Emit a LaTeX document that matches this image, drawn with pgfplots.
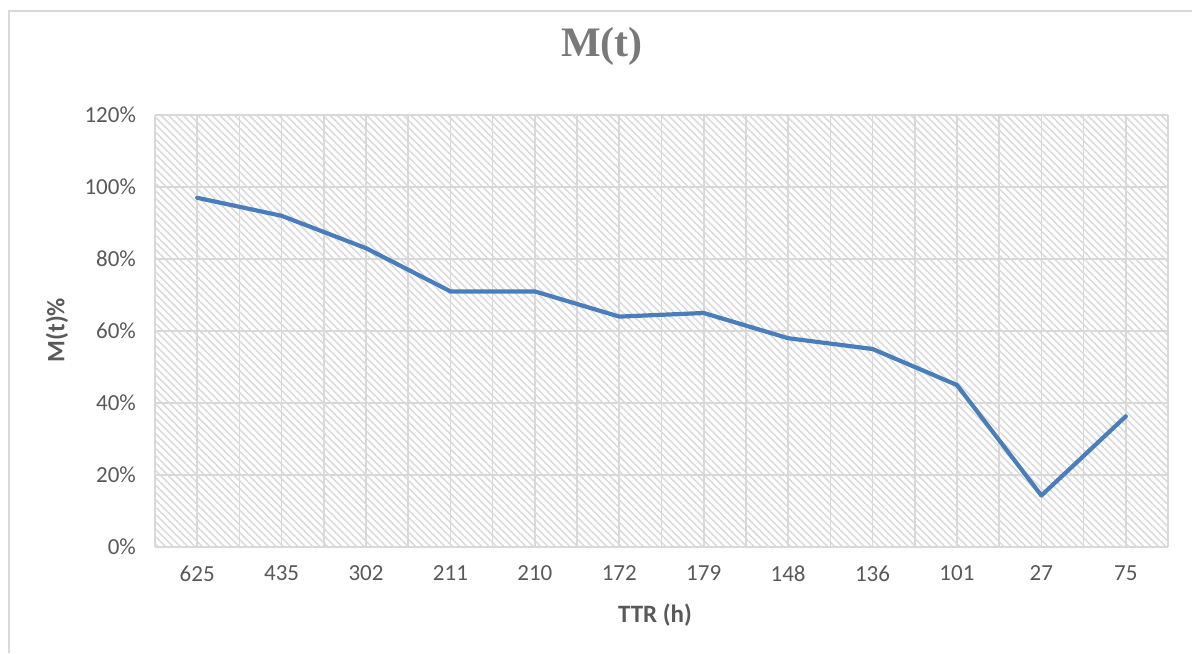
\documentclass[border=0pt]{standalone}
\usepackage{pgfplots}
\pgfplotsset{compat=1.18}
\usepackage{fontspec}
\setmainfont{Carlito}
\newfontfamily\titlefont{Liberation Serif}
\usetikzlibrary{patterns.meta}

\definecolor{txtgrey}{HTML}{595959}
\definecolor{gridgrey}{HTML}{D9D9D9}
\definecolor{linblue}{HTML}{4A7EBB}

\begin{document}
\begin{tikzpicture}
% picture bounds: 1 px = 0.5pt, axis lower left at px (155,547)
\useasboundingbox (-77.5pt,-53pt) rectangle (518.5pt,273.5pt);
\draw[gridgrey, line width=0.8pt] (-73pt,-53pt) -- (-73pt,268pt) -- (518.5pt,268pt);

\begin{axis}[
    at={(0,0)}, anchor=south west,
    scale only axis,
    width=506.5pt, height=216pt,
    xmin=-0.5, xmax=11.5,
    ymin=0, ymax=120,
    xtick={0,...,11},
    xticklabels={625,435,302,211,210,172,179,148,136,101,27,75},
    minor xtick={-0.5,0.5,...,11.5},
    ytick={0,20,...,120},
    yticklabels={0\%,20\%,40\%,60\%,80\%,100\%,120\%},
    xmajorgrids, xminorgrids, ymajorgrids,
    grid style={gridgrey, line width=0.8pt},
    minor grid style={gridgrey, line width=0.8pt},
    axis line style={draw=none},
    major tick length=0pt, minor tick length=0pt,
    tick label style={font=\fontsize{11.5}{13}\selectfont, text=txtgrey},
    xticklabel style={yshift=-6pt},
    yticklabel style={xshift=-6pt},
    axis background/.style={pattern={Lines[angle=-45, distance=2.6pt, line width=0.8pt]}, pattern color=gray!28},
    xlabel={\bfseries TTR (h)},
    ylabel={\bfseries M(t)\%},
    label style={font=\fontsize{12.5}{14}\selectfont, text=txtgrey},
    xlabel style={at={(250pt,-34pt)}, anchor=center},
    ylabel style={at={(-49pt,108.5pt)}, anchor=center, rotate=0},
    title={\titlefont\bfseries M(t)},
    title style={at={(223.5pt,244.5pt)}, anchor=center, font=\fontsize{21}{24}\selectfont, text=gray!95!black},
  ]
  \addplot[linblue, line width=2.1pt, line join=round, line cap=round, mark=none]
    coordinates {
      (0,97) (1,92) (2,83) (3,71) (4,71) (5,64)
      (6,65) (7,58) (8,55) (9,45) (10,14.3) (11,36.3)
    };
\end{axis}
\end{tikzpicture}
\end{document}
